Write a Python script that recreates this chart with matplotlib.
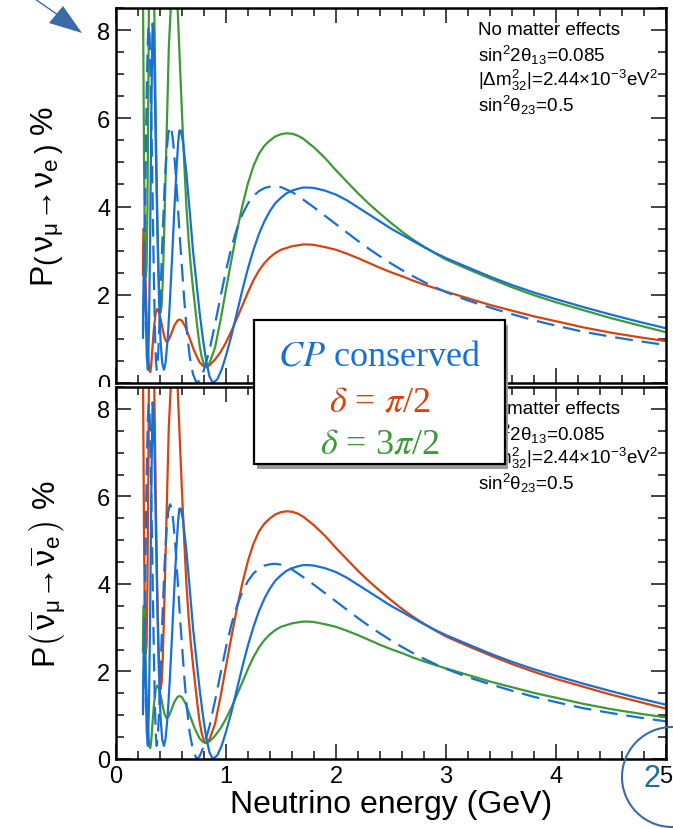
import matplotlib
matplotlib.use('Agg')
import matplotlib.pyplot as plt
from matplotlib.patches import Rectangle, Polygon, Circle
from matplotlib.lines import Line2D
from matplotlib.ticker import MultipleLocator

plt.rcParams['font.family'] = ['Liberation Sans', 'DejaVu Sans']
plt.rcParams['mathtext.fontset'] = 'custom'
plt.rcParams['mathtext.rm'] = 'Liberation Sans'
plt.rcParams['mathtext.it'] = 'Liberation Sans:italic'
plt.rcParams['mathtext.bf'] = 'Liberation Sans:bold'

# ---- data (energy in GeV, probability in %) ----
# CP conserved, solid
e_cp0 = [0.245, 0.25, 0.255, 0.26, 0.27, 0.28, 0.29, 0.30, 0.31, 0.32, 0.328, 0.333, 0.34, 0.35,
         0.36, 0.375, 0.39, 0.405, 0.42, 0.436, 0.45, 0.47, 0.49, 0.51, 0.53, 0.55, 0.565,
         0.576, 0.59, 0.61, 0.64, 0.67, 0.70, 0.73, 0.76, 0.79, 0.82, 0.85, 0.88, 0.92, 0.96,
         1.0, 1.05, 1.1, 1.15, 1.2, 1.25, 1.3, 1.35, 1.4, 1.45, 1.5, 1.55, 1.6, 1.65, 1.7,
         1.75, 1.8, 1.9, 2.0, 2.1, 2.2, 2.3, 2.4, 2.5, 2.6, 2.7, 2.8, 2.9, 3.0, 3.2, 3.4, 3.6,
         3.8, 4.0, 4.25, 4.5, 4.75, 5.0]
p_cp0 = [1.2, 2.2, 2.8, 2.6, 1.6, 0.6, 0.3, 1.3, 3.2, 5.8, 7.5, 8.15, 8.0, 7.0,
         5.6, 3.6, 2.0, 0.95, 0.45, 0.3, 0.45, 1.0, 1.85, 2.85, 3.9, 4.85, 5.45,
         5.72, 5.72, 5.45, 4.75, 3.9, 3.0, 2.3, 1.6, 1.0, 0.5, 0.15, 0.0, 0.08, 0.3,
         0.62, 1.08, 1.6, 2.12, 2.6, 3.02, 3.38, 3.67, 3.9, 4.08, 4.2, 4.3, 4.36, 4.4, 4.43,
         4.43, 4.42, 4.36, 4.27, 4.14, 3.98, 3.82, 3.66, 3.5, 3.36, 3.22, 3.08, 2.95, 2.83,
         2.62, 2.41, 2.22, 2.05, 1.9, 1.72, 1.55, 1.39, 1.24]

# CP conserved, dashed
e_cp1 = [0.245, 0.25, 0.26, 0.27, 0.28, 0.29, 0.297, 0.305, 0.315, 0.325, 0.335, 0.345, 0.355,
         0.363, 0.37, 0.38, 0.39, 0.405, 0.42, 0.44, 0.46, 0.475, 0.49, 0.505, 0.52, 0.54,
         0.56, 0.58, 0.60, 0.62, 0.645, 0.67, 0.70, 0.733, 0.76, 0.8, 0.85, 0.9, 0.95, 1.0,
         1.05, 1.1, 1.15, 1.2, 1.25, 1.3, 1.35, 1.4, 1.45, 1.5, 1.6, 1.7, 1.8, 1.9, 2.0, 2.1,
         2.2, 2.3, 2.4, 2.5, 2.6, 2.7, 2.8, 2.9, 3.0, 3.2, 3.4, 3.6, 3.8, 4.0, 4.25, 4.5,
         4.75, 5.0]
p_cp1 = [1.0, 1.6, 3.2, 5.0, 6.7, 7.8, 8.1, 7.9, 6.9, 5.4, 3.8, 2.3, 1.1,
         0.5, 0.3, 0.5, 1.0, 2.0, 3.1, 4.35, 5.25, 5.65, 5.82, 5.75, 5.45, 4.85,
         4.1, 3.3, 2.6, 1.9, 1.15, 0.6, 0.2, 0.0, 0.06, 0.3, 0.75, 1.33, 1.95, 2.55,
         3.08, 3.5, 3.83, 4.07, 4.24, 4.35, 4.42, 4.45, 4.46, 4.44, 4.33, 4.16, 3.98, 3.79,
         3.6, 3.41, 3.22, 3.04, 2.87, 2.71, 2.56, 2.42, 2.29, 2.17, 2.06, 1.87, 1.71, 1.56,
         1.42, 1.3, 1.16, 1.05, 0.95, 0.86]

# delta = pi/2 (neutrinos)
e_d90 = [0.245, 0.248, 0.252, 0.258, 0.265, 0.275, 0.285, 0.295, 0.305, 0.312, 0.32, 0.33,
         0.345, 0.36, 0.375, 0.39, 0.41, 0.43, 0.445, 0.46, 0.48, 0.50, 0.53, 0.56, 0.58,
         0.60, 0.63, 0.66, 0.70, 0.73, 0.76, 0.79, 0.815, 0.85, 0.9, 0.95, 1.0, 1.05, 1.1,
         1.15, 1.2, 1.25, 1.3, 1.35, 1.4, 1.45, 1.5, 1.6, 1.7, 1.75, 1.8, 1.9, 2.0, 2.1, 2.2,
         2.3, 2.4, 2.5, 2.6, 2.7, 2.8, 2.9, 3.0, 3.2, 3.4, 3.6, 3.8, 4.0, 4.25, 4.5, 4.75, 5.0]
p_d90 = [2.45, 3.3, 3.5, 3.3, 2.7, 1.8, 1.0, 0.5, 0.27, 0.25, 0.4, 0.75,
         1.25, 1.58, 1.68, 1.62, 1.4, 1.15, 1.0, 0.93, 0.98, 1.1, 1.3, 1.42, 1.44,
         1.41, 1.28, 1.08, 0.8, 0.62, 0.47, 0.39, 0.36, 0.4, 0.53, 0.7, 0.92, 1.18, 1.47,
         1.76, 2.06, 2.33, 2.55, 2.72, 2.85, 2.95, 3.02, 3.1, 3.14, 3.14, 3.13, 3.08, 3.02,
         2.93, 2.83, 2.72, 2.61, 2.51, 2.42, 2.32, 2.23, 2.15, 2.07, 1.92, 1.77, 1.64, 1.51,
         1.4, 1.26, 1.14, 1.04, 0.95]

# delta = 3pi/2 (neutrinos)
e_d270 = [0.245, 0.25, 0.255, 0.262, 0.27, 0.278, 0.286, 0.294, 0.30, 0.31, 0.325, 0.34,
          0.348, 0.355, 0.365, 0.375, 0.385, 0.395, 0.405, 0.415, 0.425, 0.44, 0.46, 0.48,
          0.50, 0.53, 0.56, 0.58, 0.60, 0.62, 0.64, 0.66, 0.68, 0.70, 0.72, 0.74, 0.76, 0.78,
          0.80, 0.815, 0.85, 0.9, 0.95, 1.0, 1.05, 1.1, 1.15, 1.2, 1.25, 1.3, 1.35, 1.4, 1.45,
          1.5, 1.55, 1.6, 1.65, 1.7, 1.8, 1.9, 2.0, 2.1, 2.2, 2.3, 2.4, 2.5, 2.6, 2.7, 2.8,
          2.9, 3.0, 3.2, 3.4, 3.6, 3.8, 4.0, 4.25, 4.5, 4.75, 5.0]
p_d270 = [9.0, 7.0, 5.0, 3.2, 2.4, 2.6, 4.0, 6.5, 9.0, 11.0, 11.0, 9.0,
          8.5, 7.2, 5.4, 3.9, 2.7, 1.9, 1.6, 1.75, 2.3, 3.6, 5.6, 7.6,
          8.6, 10.3, 8.5, 7.3, 6.1, 5.0, 4.0, 3.25, 2.65, 2.15, 1.7, 1.25, 0.85, 0.58,
          0.42, 0.37, 0.45, 0.8, 1.42, 2.12, 2.8, 3.45, 4.03, 4.53, 4.92, 5.2, 5.38, 5.5, 5.59,
          5.64, 5.66, 5.65, 5.61, 5.54, 5.34, 5.1, 4.82, 4.56, 4.3, 4.06, 3.84, 3.63, 3.43,
          3.25, 3.09, 2.94, 2.8, 2.58, 2.37, 2.17, 1.99, 1.83, 1.65, 1.47, 1.31, 1.15]

BLUE = '#1a6fd4'
RED = '#d5430f'
GREEN = '#3d9a37'

info_lines = ['No matter effects',
              r'sin$^{2}$2$\mathrm{\theta}_{13}$=0.085',
              r'|$\mathrm{\Delta m^{2}_{32}}$|=2.44$\times$10$^{-3}$eV$^{2}$',
              r'sin$^{2}\mathrm{\theta}_{23}$=0.5']

W, H = 673, 829
fig = plt.figure(figsize=(W / 100, H / 100), dpi=100)


def px(x, y):
    # pixel position (from top-left) -> inches for dpi_scale_trans
    return (x / 100, (H - y) / 100)


ax1 = fig.add_axes([116 / W, 1 - 384 / H, 550 / W, 375 / H])
ax2 = fig.add_axes([116 / W, 1 - 760 / H, 550 / W, 372 / H])

panels = [(ax1, p_d90, p_d270, e_d90, e_d270,
           r'P$\left(\,\mathrm{\nu_{\mu}\!\rightarrow\!\nu_{e}}\,\right)$ %', 196),
          (ax2, p_d270, p_d90, e_d270, e_d90,
           r'P$\left(\,\mathrm{\overline{\nu}_{\mu}\!\rightarrow\!\overline{\nu}_{e}}\,\right)$ %', 574)]

for ax, p_red, p_green, e_red, e_green, ylab, yc in panels:
    ax.plot(e_red, p_red, color=RED, lw=1.6)
    ax.plot(e_green, p_green, color=GREEN, lw=1.6)
    ax.plot(e_cp0, p_cp0, color=BLUE, lw=1.6)
    ax.plot(e_cp1, p_cp1, color=BLUE, lw=1.6, ls=(0, (8, 4)))
    ax.set_xlim(0, 5)
    ax.set_ylim(0, 8.5)
    ax.xaxis.set_major_locator(MultipleLocator(1))
    ax.xaxis.set_minor_locator(MultipleLocator(0.2))
    ax.yaxis.set_major_locator(MultipleLocator(2))
    ax.yaxis.set_minor_locator(MultipleLocator(0.5))
    ax.tick_params(which='both', direction='in', top=True, right=True,
                   color='#444444', width=1.4, labelsize=17, pad=4)
    ax.tick_params(which='major', length=11)
    ax.tick_params(which='minor', length=6)
    for s in ax.spines.values():
        s.set_linewidth(1.8)
    for i, t in enumerate(info_lines):
        ax.text(3.29, 8.02 - 0.57 * i, t, fontsize=13.5, va='center', ha='left')
    fig.text(48 / W, 1 - yc / H, ylab, rotation=90, ha='center', va='center', fontsize=23)

ax1.tick_params(labelbottom=False)

fig.text(391 / W, 1 - 805 / H, 'Neutrino energy (GeV)', ha='center', va='center', fontsize=23)

# hide the lower half of the top panel's "0" label
fig.add_artist(Rectangle(px(80, 398), 0.34, 0.105, transform=fig.dpi_scale_trans,
                         facecolor='white', edgecolor='none', zorder=3))

# legend box with shadow
fig.add_artist(Rectangle(px(257, 470), 2.51, 1.44, transform=fig.dpi_scale_trans,
                         facecolor='#9a9a9a', edgecolor='none', zorder=4))
fig.add_artist(Rectangle(px(254, 465), 2.51, 1.44, transform=fig.dpi_scale_trans,
                         facecolor='white', edgecolor='black', lw=1.6, zorder=5))
fig.text(380 / W, 1 - 357 / H, r'$CP$ conserved', color=BLUE, fontsize=26,
         family='Liberation Serif', math_fontfamily='stix', ha='center', va='center', zorder=6)
fig.text(380 / W, 1 - 403 / H, r'$\delta$ = $\pi$/2', color=RED, fontsize=26,
         family='Liberation Serif', math_fontfamily='stix', ha='center', va='center', zorder=6)
fig.text(380 / W, 1 - 445 / H, r'$\delta$ = 3$\pi$/2', color=GREEN, fontsize=26,
         family='Liberation Serif', math_fontfamily='stix', ha='center', va='center', zorder=6)

# arrow fragment top-left and logo fragment bottom-right
deco = '#3b6aa8'
fig.add_artist(Line2D([35 / 100, 58 / 100], [(H - 0) / 100, (H - 16) / 100],
                      transform=fig.dpi_scale_trans, color=deco, lw=1.0, zorder=6))
fig.add_artist(Polygon([px(49, 24), px(63, 7), px(82, 34)], closed=True,
                       transform=fig.dpi_scale_trans, facecolor=deco, edgecolor='none', zorder=6))
fig.add_artist(Circle(px(672, 778), 0.5, transform=fig.dpi_scale_trans, fill=False,
                      edgecolor=deco, lw=1.5, zorder=6))
fig.text(652 / W, 1 - 779 / H, '2', color='#1d6d9e', fontsize=22,
         ha='center', va='center', zorder=5)

fig.savefig('out.png', dpi=100)
